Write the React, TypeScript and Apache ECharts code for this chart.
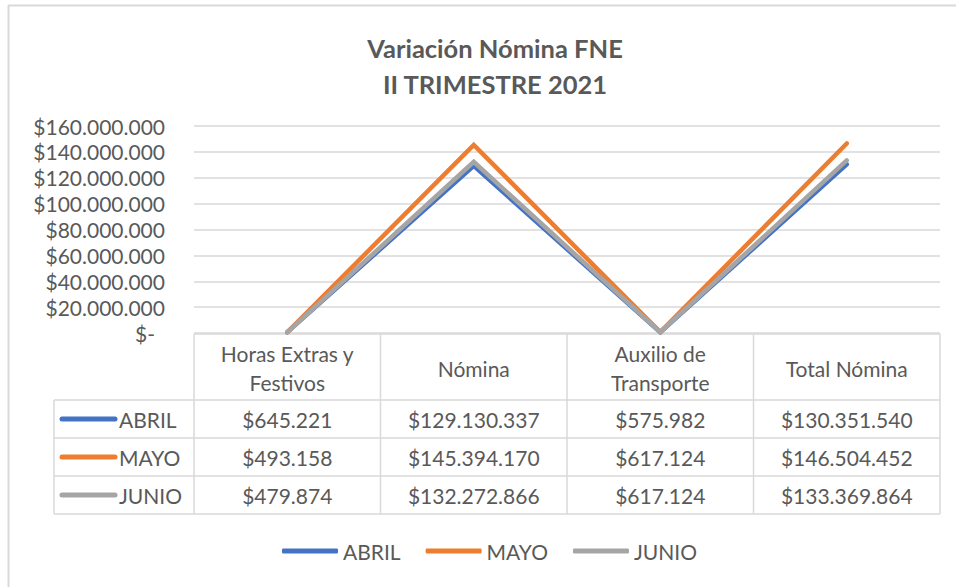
import React, { useEffect, useRef } from 'react';
import * as echarts from 'echarts';

const categories = ['Horas Extras y Festivos', 'Nómina', 'Auxilio de Transporte', 'Total Nómina'];
const headerLabels = ['Horas Extras y\nFestivos', 'Nómina', 'Auxilio de\nTransporte', 'Total Nómina'];
const seriesNames = ['ABRIL', 'MAYO', 'JUNIO'];
const abril = [645221, 129130337, 575982, 130351540];
const mayo = [493158, 145394170, 617124, 146504452];
const junio = [479874, 132272866, 617124, 133369864];
const seriesValues = [abril, mayo, junio];
const yMin = 0;
const yMax = 160000000;
const yInterval = 20000000;
const titleLines = ['Variación Nómina FNE', 'II TRIMESTRE 2021'];

const COLORS = ['#4472C4', '#ED7D31', '#A5A5A5'];
const TEXT = '#595959';
const LINE = '#D9D9D9';
const FONT = 'Lato, "Noto Sans", sans-serif';
const FS = 21;

const fmt = (n: number) => '$' + String(n).replace(/\B(?=(\d{3})+(?!\d))/g, '.');

export default function App() {
  const ref = useRef<HTMLDivElement>(null);
  useEffect(() => {
    if (!ref.current) return;
    const chart = echarts.init(ref.current, null, { renderer: 'svg' });

    const GL = 194, GR = 940, GT = 126, AX = 333;
    const colW = (GR - GL) / categories.length;
    const TT = 334, HB = 400, RH = 38;
    const TL = 54;
    const g: any[] = [];
    const ln = (x1: number, y1: number, x2: number, y2: number) => ({
      type: 'line', silent: true,
      shape: { x1, y1, x2, y2 },
      style: { stroke: LINE, lineWidth: 1.5 },
    });
    // chart border (left & top)
    g.push({ type: 'line', shape: { x1: 8.5, y1: 5, x2: 8.5, y2: 587 }, style: { stroke: LINE, lineWidth: 2 } });
    g.push({ type: 'line', shape: { x1: 8, y1: 5.5, x2: 956, y2: 5.5 }, style: { stroke: LINE, lineWidth: 2 } });
    // table grid
    const bottom = HB + RH * seriesNames.length;
    g.push(ln(GL, TT, GR, TT));
    g.push(ln(TL, HB, GR, HB));
    for (let r = 1; r <= seriesNames.length; r++) g.push(ln(TL, HB + RH * r, GR, HB + RH * r));
    g.push(ln(TL, HB, TL, bottom));
    for (let c = 0; c <= categories.length; c++) g.push(ln(GL + colW * c, TT, GL + colW * c, bottom));
    // header
    headerLabels.forEach((h, c) => {
      g.push({
        type: 'text', silent: true,
        style: {
          text: h, x: GL + colW * (c + 0.5), y: (TT + HB) / 2 + 1,
          align: 'center', verticalAlign: 'middle',
          fill: TEXT, fontSize: FS, fontFamily: FONT, lineHeight: 29,
        },
      });
    });
    // rows
    seriesNames.forEach((name, r) => {
      const cy = HB + RH * (r + 0.5);
      g.push({
        type: 'line', silent: true,
        shape: { x1: 62, y1: cy, x2: 115, y2: cy },
        style: { stroke: COLORS[r], lineWidth: 5, lineCap: 'round' },
      });
      g.push({
        type: 'text', silent: true,
        style: { text: name, x: 119, y: cy, align: 'left', verticalAlign: 'middle', fill: TEXT, fontSize: FS, fontFamily: FONT },
      });
      seriesValues[r].forEach((v, c) => {
        g.push({
          type: 'text', silent: true,
          style: {
            text: fmt(v), x: GL + colW * (c + 0.5), y: cy,
            align: 'center', verticalAlign: 'middle', fill: TEXT, fontSize: FS, fontFamily: FONT,
          },
        });
      });
    });

    chart.setOption({
      animation: false,
      backgroundColor: '#ffffff',
      title: {
        text: titleLines.join('\n'),
        left: 490, textAlign: 'center', top: 25,
        textStyle: { color: TEXT, fontSize: 25.5, fontWeight: 'bold', fontFamily: FONT, lineHeight: 36 },
      },
      legend: {
        data: seriesNames,
        left: 282, top: 540, padding: 0,
        icon: 'roundRect',
        itemWidth: 56, itemHeight: 5, itemGap: 25,
        textStyle: { color: TEXT, fontSize: FS, fontFamily: FONT, lineHeight: 22 },
      },
      grid: { left: GL, right: 956 - GR, top: GT, bottom: 587 - AX, containLabel: false },
      xAxis: {
        type: 'category', data: categories, boundaryGap: true,
        axisLine: { show: false }, axisTick: { show: false }, axisLabel: { show: false },
        splitLine: { show: false },
      },
      yAxis: {
        type: 'value', min: yMin, max: yMax, interval: yInterval,
        axisLine: { show: false }, axisTick: { show: false },
        splitLine: { lineStyle: { color: LINE, width: 1.5 } },
        axisLabel: {
          margin: 29, color: TEXT, fontSize: FS, fontFamily: FONT,
          formatter: (v: number) => (v === 0 ? '{d|$-}' : fmt(v)),
          rich: { d: { color: TEXT, fontSize: FS, fontFamily: FONT, padding: [0, 10, 0, 0] } },
        },
      },
      series: seriesNames.map((name, i) => ({
        name, type: 'line', data: seriesValues[i],
        symbol: 'none', showSymbol: false,
        itemStyle: { color: COLORS[i] },
        lineStyle: { color: COLORS[i], width: 4.5, cap: 'round', join: 'miter' },
        z: 2 + i,
      })),
      graphic: g,
    });
    return () => chart.dispose();
  }, []);
  return <div ref={ref} style={{ position: 'absolute', left: 0, top: 0, width: 956, height: 587, background: '#fff' }} />;
}
